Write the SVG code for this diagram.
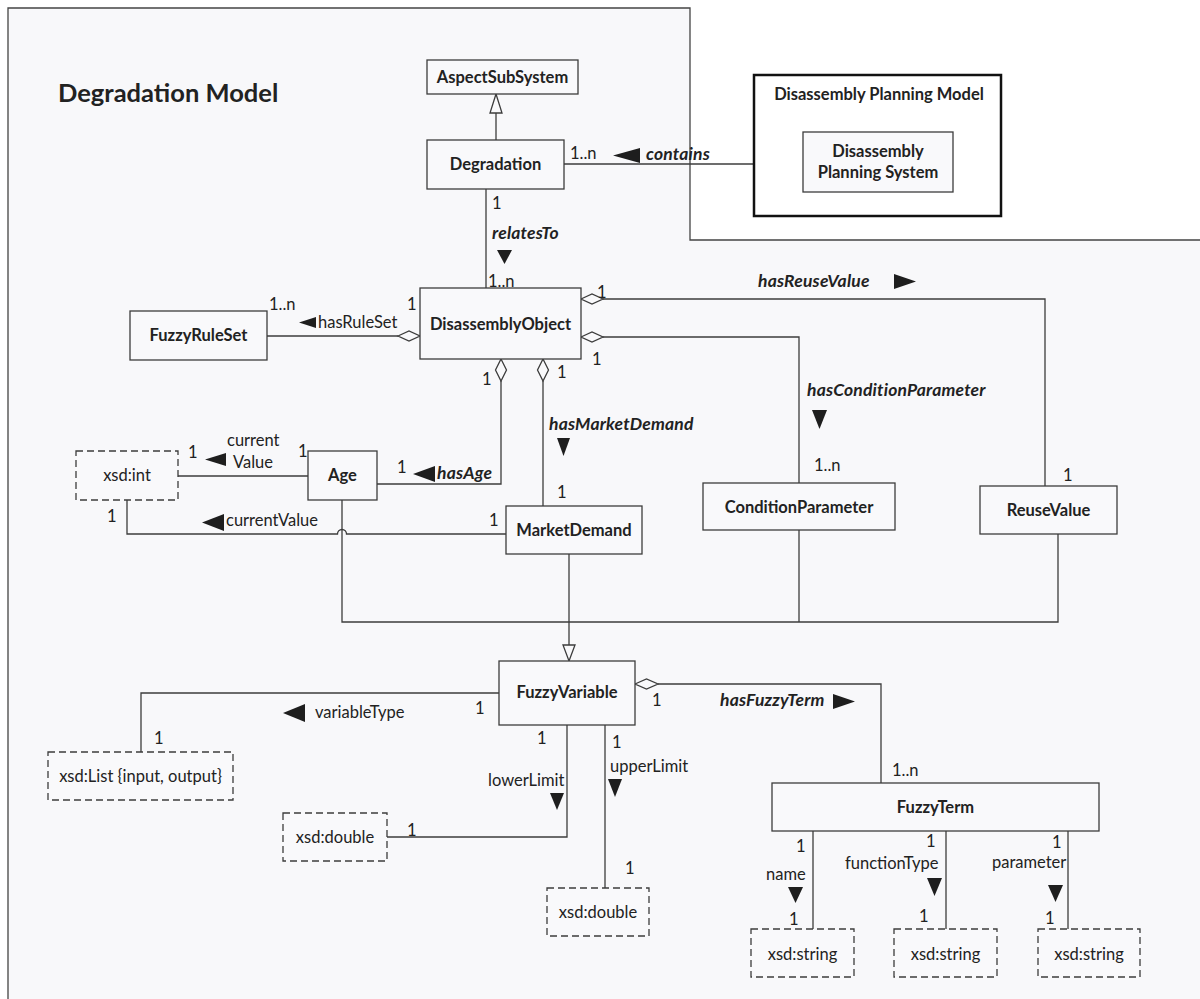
<svg xmlns="http://www.w3.org/2000/svg" width="1200" height="999" viewBox="0 0 1200 999">
<defs>
<style>
text{font-family:Lato,"Open Sans","DejaVu Sans",sans-serif;font-size:16.5px;fill:#222}
.b{font-weight:bold}
.bi{font-weight:bold;font-style:italic;font-size:17.5px;letter-spacing:0.2px}
.c{text-anchor:middle}
.t{font-size:25.5px;font-weight:bold}
.box{fill:#f9f9fb;stroke:#3c3c3c;stroke-width:1.3}
.dbox{fill:#f9f9fb;stroke:#3c3c3c;stroke-width:1.3;stroke-dasharray:7 4}
.ln{fill:none;stroke:#3c3c3c;stroke-width:1.3}
.arr{fill:#1e1e1e}
.dia{fill:#f9f9fb;stroke:#3c3c3c;stroke-width:1.3}
.gen{fill:#f9f9fb;stroke:#3c3c3c;stroke-width:1.3}
</style>
</defs>
<rect width="1200" height="999" fill="#ffffff"/>
<polygon points="8,8 690,8 690,240 1200,240 1200,999 8,999" fill="#f8f8fa"/>
<path d="M8,999 V8 H690 V240 H1200" fill="none" stroke="#444" stroke-width="1.3"/>
<text class="t" x="58" y="102">Degradation Model</text>

<g id="connectors">
<path class="ln" d="M496,140 V113"/>
<path class="ln" d="M564,164 H803"/>
<path class="ln" d="M486,189 V288"/>
<path class="ln" d="M267,336 H398"/>
<path class="ln" d="M603,299 H1045 V486"/>
<path class="ln" d="M603,337 H799 V483"/>
<path class="ln" d="M501,381 V484 H377"/>
<path class="ln" d="M543,381 V506"/>
<path class="ln" d="M308,476 H178"/>
<path class="ln" d="M506,534 H346.5 A4.5,4.5 0 0 0 337.5,534 H127 V500"/>
<path class="ln" d="M342,500 V622 H1058 V534"/>
<path class="ln" d="M799,530 V622"/>
<path class="ln" d="M569,554 V645"/>
<path class="ln" d="M499,693 H141 V752"/>
<path class="ln" d="M567,725 V837 H387"/>
<path class="ln" d="M605,725 V888"/>
<path class="ln" d="M658,684 H881 V783"/>
<path class="ln" d="M813,831 V929"/>
<path class="ln" d="M946,831 V929"/>
<path class="ln" d="M1068,831 V929"/>
<polygon class="gen" points="496,94 502,113 490,113"/>
<polygon class="gen" points="569,661 575,645 563,645"/>
<polygon class="dia" points="398,336 409,331 420,336 409,341"/>
<polygon class="dia" points="581,299 592,294 603,299 592,304"/>
<polygon class="dia" points="581,337 592,332 603,337 592,342"/>
<polygon class="dia" points="501,359 506.5,370 501,381 495.5,370"/>
<polygon class="dia" points="543,359 548.5,370 543,381 537.5,370"/>
<polygon class="dia" points="635,684 646.5,679 658,684 646.5,689"/>
<polygon class="arr" points="613,155.5 640,148 640,163"/>
<polygon class="arr" points="497,250 512,250 504.5,264"/>
<polygon class="arr" points="299,322.5 316,317 316,328"/>
<polygon class="arr" points="894,274 894,289 916,281.5"/>
<polygon class="arr" points="812,410 827,410 819.5,429"/>
<polygon class="arr" points="413,474 435,466 435,482"/>
<polygon class="arr" points="557,438 570,438 563.5,456"/>
<polygon class="arr" points="205,459.5 226,453 226,466"/>
<polygon class="arr" points="202,522.5 224,514 224,531"/>
<polygon class="arr" points="283,713 305,704 305,722"/>
<polygon class="arr" points="550,793 564,793 557,810"/>
<polygon class="arr" points="608,779 622,779 615,797"/>
<polygon class="arr" points="833,694 833,709 855,701.5"/>
<polygon class="arr" points="788,887 803,887 795.5,903"/>
<polygon class="arr" points="927,878 942,878 934.5,896"/>
<polygon class="arr" points="1048,885 1063,885 1055.5,902"/>
<text class="bi" x="646" y="160">contains</text>
<text class="bi" x="492" y="239">relatesTo</text>
<text x="318" y="328">hasRuleSet</text>
<text class="bi" x="758" y="287">hasReuseValue</text>
<text class="bi" x="807" y="396">hasConditionParameter</text>
<text class="bi" x="549" y="430">hasMarketDemand</text>
<text class="bi" x="437" y="479">hasAge</text>
<text x="227" y="446">current</text>
<text x="233" y="468">Value</text>
<text x="226" y="526">currentValue</text>
<text x="315" y="718">variableType</text>
<text class="bi" x="720" y="706">hasFuzzyTerm</text>
<text x="488" y="786">lowerLimit</text>
<text x="610" y="772">upperLimit</text>
<text x="766" y="880">name</text>
<text x="845" y="869">functionType</text>
<text x="992" y="868">parameter</text>
<text x="570" y="159">1..n</text>
<text x="786" y="159">1</text>
<text x="492" y="209">1</text>
<text x="488" y="287">1..n</text>
<text x="269" y="310">1..n</text>
<text x="407" y="310">1</text>
<text x="597" y="298">1</text>
<text x="592" y="365">1</text>
<text x="482" y="385">1</text>
<text x="557" y="378">1</text>
<text x="397" y="473">1</text>
<text x="557" y="498">1</text>
<text x="489" y="526">1</text>
<text x="188" y="458">1</text>
<text x="298" y="457">1</text>
<text x="107" y="522">1</text>
<text x="814" y="471">1..n</text>
<text x="1063" y="481">1</text>
<text x="475" y="714">1</text>
<text x="154" y="744">1</text>
<text x="652" y="706">1</text>
<text x="537" y="744">1</text>
<text x="612" y="748">1</text>
<text x="407" y="836">1</text>
<text x="625" y="874">1</text>
<text x="892" y="776">1..n</text>
<text x="796" y="852">1</text>
<text x="789" y="925">1</text>
<text x="926" y="847">1</text>
<text x="919" y="922">1</text>
<text x="1052" y="848">1</text>
<text x="1045" y="924">1</text>
</g>

<g id="AspectSubSystem"><rect class="box" x="427" y="60" width="151" height="34"/><text class="b c" x="502.5" y="83">AspectSubSystem</text></g>
<g id="Degradation"><rect class="box" x="427" y="140" width="137" height="49"/><text class="b c" x="495.5" y="170">Degradation</text></g>
<g id="DisassemblyPlanningModel"><rect x="754" y="75" width="247" height="141" fill="#ffffff" stroke="#111" stroke-width="2.5"/><text class="b c" x="879" y="100">Disassembly Planning Model</text></g>
<g id="DisassemblyPlanningSystem"><rect class="box" x="803" y="132" width="150" height="60" fill="#fff"/><text class="b c" x="878" y="157">Disassembly</text><text class="b c" x="878" y="178">Planning System</text></g>
<g id="DisassemblyObject"><rect class="box" x="420" y="288" width="161" height="71"/><text class="b c" x="500.5" y="330">DisassemblyObject</text></g>
<g id="FuzzyRuleSet"><rect class="box" x="130" y="311" width="137" height="49"/><text class="b c" x="198.5" y="341">FuzzyRuleSet</text></g>
<g id="Age"><rect class="box" x="308" y="451" width="69" height="49"/><text class="b c" x="342.5" y="481">Age</text></g>
<g id="xsd_int"><rect class="dbox" x="76" y="451" width="102" height="49"/><text class="c" x="127" y="481">xsd:int</text></g>
<g id="MarketDemand"><rect class="box" x="506" y="506" width="136" height="48"/><text class="b c" x="574" y="536">MarketDemand</text></g>
<g id="ConditionParameter"><rect class="box" x="703" y="483" width="192" height="47"/><text class="b c" x="799" y="513">ConditionParameter</text></g>
<g id="ReuseValue"><rect class="box" x="980" y="486" width="137" height="48"/><text class="b c" x="1048.5" y="516">ReuseValue</text></g>
<g id="FuzzyVariable"><rect class="box" x="499" y="661" width="136" height="64"/><text class="b c" x="567" y="698">FuzzyVariable</text></g>
<g id="xsd_List"><rect class="dbox" x="48" y="752" width="185" height="48"/><text class="c" x="140.5" y="782">xsd:List {input, output}</text></g>
<g id="xsd_double_lower"><rect class="dbox" x="283" y="813" width="104" height="48"/><text class="c" x="335" y="843">xsd:double</text></g>
<g id="xsd_double_upper"><rect class="dbox" x="547" y="888" width="102" height="48"/><text class="c" x="598" y="918">xsd:double</text></g>
<g id="FuzzyTerm"><rect class="box" x="772" y="783" width="327" height="48"/><text class="b c" x="935.5" y="813">FuzzyTerm</text></g>
<g id="xsd_string_name"><rect class="dbox" x="751" y="929" width="103" height="48"/><text class="c" x="802.5" y="960">xsd:string</text></g>
<g id="xsd_string_function"><rect class="dbox" x="894" y="929" width="103" height="48"/><text class="c" x="945.5" y="960">xsd:string</text></g>
<g id="xsd_string_parameter"><rect class="dbox" x="1038" y="929" width="102" height="48"/><text class="c" x="1089" y="960">xsd:string</text></g>
</svg>
